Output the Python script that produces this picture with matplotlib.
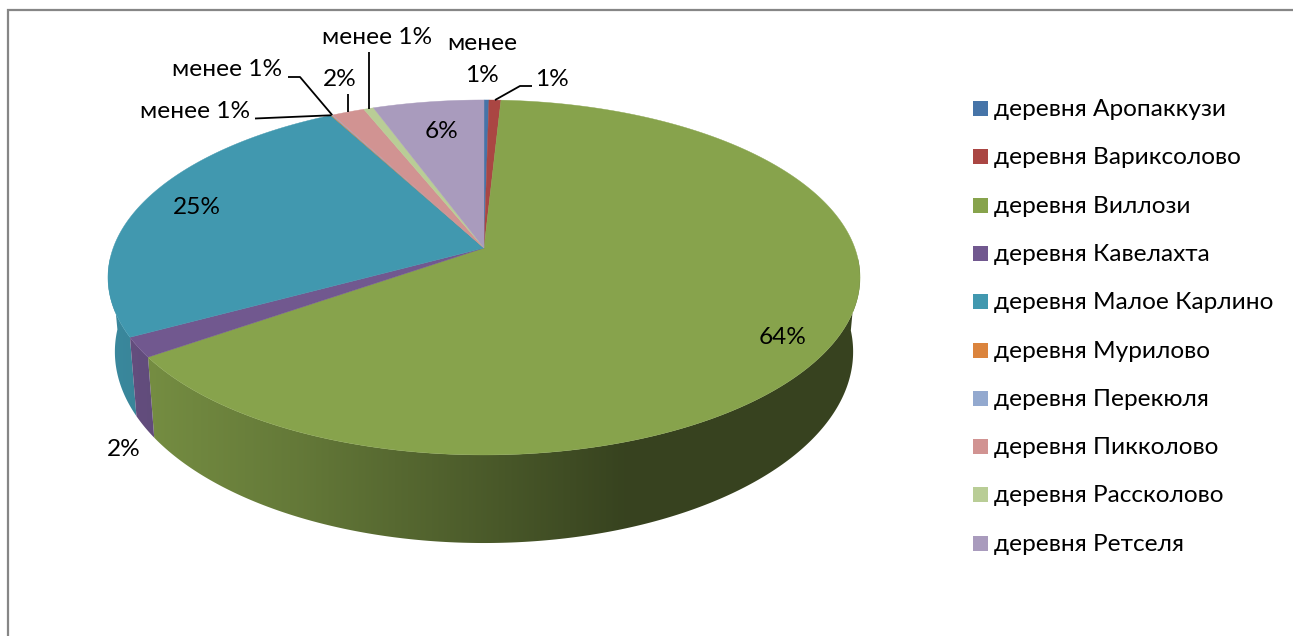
import matplotlib
matplotlib.use("Agg")
import matplotlib.pyplot as plt
from matplotlib.patches import Rectangle, Polygon
import numpy as np

plt.rcParams['font.family'] = ['Lato', 'Noto Sans', 'DejaVu Sans']

# ---------------- DATA ----------------
categories = ["деревня Аропаккузи", "деревня Вариксолово", "деревня Виллози",
              "деревня Кавелахта", "деревня Малое Карлино", "деревня Мурилово",
              "деревня Перекюля", "деревня Пикколово", "деревня Рассколово",
              "деревня Ретселя"]
values = [0.25, 0.6, 64.45, 1.8, 25.05, 0.05, 0.05, 1.65, 0.5, 5.6]
colors = ["#4674a8", "#aa4643", "#87a34c", "#71588f", "#4198af",
          "#db843d", "#93a9cf", "#d19392", "#b9cd96", "#a99bbd"]

# side wall shading, read along the x position of the wall
shade_x = [110, 155, 300, 484, 625]
shade_k = [0.90, 0.86, 0.74, 0.555, 0.41]

# ---------------- PIE GEOMETRY (pixels) ----------------
CX = 484
TOP_Y = 248
TOP_A, TOP_B = 370.8, 172.6
BOT_Y = 320
BOT_A, BOT_B = 364, 186
PERSP = 0.166


def rim(frac, cy, a, b):
    th = 2 * np.pi * np.asarray(frac)
    d = 1 + PERSP * np.cos(th)
    return CX + a * np.sin(th) / d, cy - b * np.cos(th) / d


def top_rim(frac):
    return rim(frac, TOP_Y, TOP_A, TOP_B)


def bot_rim(frac):
    return rim(frac, BOT_Y, BOT_A, BOT_B)


fig = plt.figure(figsize=(12.93, 6.36), dpi=100)
ax = fig.add_axes([0, 0, 1, 1])

# chart frame, only top and left are in the crop
ax.plot([7.5, 7.5, 1293], [636, 9.5, 9.5], color="#868686", lw=1.6, solid_joinstyle="miter")

total = sum(values)
edges = np.concatenate([[0], np.cumsum(values)]) / total

# ---------------- SIDE WALLS ----------------
px = np.arange(1293) + 0.5
shade = np.interp(px, shade_x, shade_k)
for i in np.argsort(-np.array(values)):
    f = np.linspace(edges[i], edges[i + 1], 400)
    f = f[np.cos(2 * np.pi * f) < -0.05]
    if len(f) < 2:
        continue
    xt, yt = top_rim(f)
    xb, yb = bot_rim(f)
    wall = Polygon(np.c_[np.r_[xt, xb[::-1]], np.r_[yt, yb[::-1]]], transform=ax.transData)
    rgb = np.array(matplotlib.colors.to_rgb(colors[i]))
    grad = shade[None, :, None] * rgb[None, None, :]
    im = ax.imshow(grad, extent=[0, 1293, 636, 0], aspect="auto", zorder=2, interpolation="nearest")
    im.set_clip_path(wall)

ax.set_xlim(0, 1293)
ax.set_ylim(636, 0)
ax.axis("off")

# ---------------- TOP FACE ----------------
for i, col in enumerate(colors):
    n = max(3, int((edges[i + 1] - edges[i]) * 720))
    f = np.linspace(edges[i], edges[i + 1], n + 1)
    xs, ys = top_rim(f)
    ax.fill(np.r_[CX, xs], np.r_[TOP_Y, ys], color=col, lw=0.3, zorder=3)

# ---------------- LABELS ----------------
FS = 17.6
text_kw = dict(fontsize=FS, color="black", ha="center", va="center", zorder=5)
ax.text(783, 338, "64%", **text_kw)
ax.text(197, 207, "25%", **text_kw)
ax.text(442, 131, "6%", **text_kw)
ax.text(124, 450, "2%", **text_kw)
ax.text(340, 79, "2%", **text_kw)
ax.text(552, 79, "1%", **text_kw)
ax.text(195, 111, "менее 1%", **text_kw)
ax.text(227, 69, "менее 1%", **text_kw)
ax.text(377, 37, "менее 1%", **text_kw)
ax.text(482, 43, "менее", **text_kw)
ax.text(482, 76, "1%", **text_kw)


# leader lines end on the slice they belong to
def mid(i):
    return top_rim((edges[i] + edges[i + 1]) / 2)


line_kw = dict(color="black", lw=1.3, zorder=4, solid_capstyle="butt")
x, y = mid(5)
ax.plot([255, x], [118.5, y], **line_kw)
x, y = mid(6)
ax.plot([288, 300, x], [77, 77, y], **line_kw)
x, y = mid(7)
ax.plot([x, x], [94, y], **line_kw)
x, y = mid(8)
ax.plot([x, x], [52, y], **line_kw)
x, y = mid(1)
ax.plot([532, 520, x], [86, 86, y], **line_kw)

# ---------------- LEGEND ----------------
for i, (name, col) in enumerate(zip(categories, colors)):
    yc = 108.5 + i * 48.3
    ax.add_patch(Rectangle((973, yc - 7.5), 15, 15, facecolor=col, edgecolor="none", zorder=5))
    ax.text(994, yc + 1, name, fontsize=FS, color="black", ha="left", va="center", zorder=5)

fig.savefig("out.png", dpi=100)
